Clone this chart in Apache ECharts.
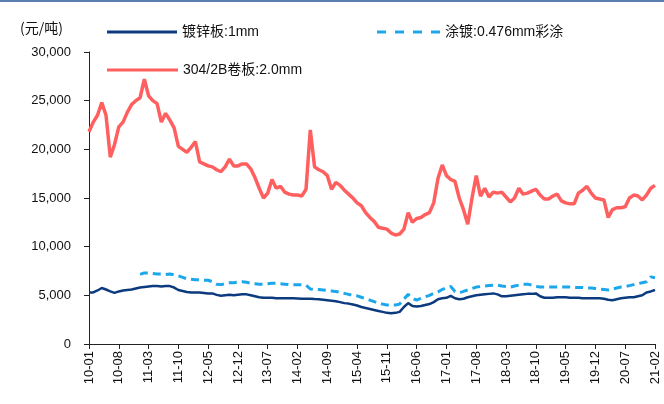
<!DOCTYPE html>
<html>
<head>
<meta charset="utf-8">
<script src="https://cdn.jsdelivr.net/npm/echarts@6/dist/echarts.min.js"></script>
<style>
html,body{margin:0;padding:0;background:#fff;}
#c{width:664px;height:404px;}
</style>
</head>
<body>
<div id="c"></div>
<script>
// Monthly categories 2010-01 .. 2021-02 (YY-MM)
var startYear = 10, startMonth = 1, monthCount = 134;
var categories = [];
for (var k = 0; k < monthCount; k++) {
  var m = startMonth - 1 + k;
  var yy = startYear + Math.floor(m / 12);
  var mm = (m % 12) + 1;
  categories.push(yy + '-' + (mm < 10 ? '0' + mm : '' + mm));
}

var seriesNames = ['镀锌板:1mm', '涂镀:0.476mm彩涂', '304/2B卷板:2.0mm'];

var galvanized = [
5300,5300,5500,5750,5600,5400,5250,5400,5500,5550,5600,5700,
5800,5850,5900,5950,5950,5900,5950,5950,5800,5550,5450,5350,
5300,5300,5300,5250,5200,5200,5050,4950,5000,5050,5000,5050,
5100,5100,5000,4900,4800,4750,4750,4750,4700,4700,4700,4700,
4700,4680,4650,4650,4650,4620,4600,4550,4500,4450,4400,4300,
4200,4150,4050,3950,3800,3700,3600,3500,3400,3300,3200,3150,
3200,3300,3800,4200,3900,3850,3900,4000,4100,4300,4600,4700,
4750,4950,4700,4600,4650,4800,4900,5000,5050,5100,5150,5200,
5100,4900,4900,4950,5000,5050,5100,5150,5150,5200,4900,4750,
4750,4750,4800,4800,4800,4750,4750,4750,4700,4700,4700,4700,
4700,4650,4550,4500,4600,4700,4750,4800,4800,4900,5000,5300,
5400,5550
];

var coated = [
null,null,null,null,null,null,null,null,null,null,null,null,
7150,7300,7300,7250,7200,7200,7150,7200,7100,7000,6850,6700,
6650,6600,6600,6550,6550,6400,6150,6100,6200,6300,6300,6350,
6400,6350,6250,6200,6150,6150,6200,6250,6250,6200,6150,6100,
6100,6100,6100,6050,5650,5600,5600,5550,5500,5450,5400,5300,
5200,5100,5000,4950,4800,4650,4500,4350,4200,4100,4000,4000,
4000,4100,4600,5100,4700,4500,4700,4850,5000,5200,5350,5600,
5800,5900,5400,5250,5400,5550,5700,5850,5900,5950,6000,6050,
6050,5950,5900,5850,5950,6050,6150,6150,6050,5900,5850,5850,
5850,5850,5850,5850,5850,5850,5800,5800,5800,5750,5750,5700,
5650,5600,5550,5650,5750,5850,5900,6000,6100,6200,6300,6400,
6900,6800
];

var stainless = [
21800,22800,23500,24800,23500,19200,20500,22300,22800,23800,24600,25000,
25300,27200,25500,25000,24700,22800,23700,23000,22200,20300,20000,19700,
20200,20800,18700,18500,18300,18200,17900,17700,18200,19000,18300,18300,
18500,18500,18000,17100,16000,15000,15500,16900,16000,16200,15600,15400,
15300,15300,15200,15900,22000,18200,17900,17700,17300,15900,16600,16300,
15800,15400,15000,14500,14200,13500,13000,12600,12000,11900,11800,11400,
11200,11300,11800,13500,12500,12900,13000,13300,13500,14500,17000,18400,
17300,16900,16700,15000,13800,12300,15000,17300,15200,16000,15100,15600,
15500,15600,15100,14600,15000,16000,15400,15500,15700,15900,15300,14900,
14900,15200,15400,14700,14500,14400,14400,15500,15800,16200,15500,15000,
14900,14800,13000,13800,14000,14000,14100,15000,15300,15200,14800,15300,
16000,16300
];

var yMin = 0, yMax = 30000, yInterval = 5000;

var chart = echarts.init(document.getElementById('c'), null, {renderer: 'canvas'});
var fontFam = '"Liberation Sans", Arial, "Noto Sans CJK SC", sans-serif';
var colors = ['#0b3a7e', '#1aa7ec', '#ff5f5f'];

var solidIcon = 'rect';
var dashIcon = 'path://M0,0h9v3h-9z M18,0h9v3h-9z M36,0h9v3h-9z M54,0h9v3h-9z';

function legendFor(idx, left, top, icon, w) {
  return {
    data: [{name: seriesNames[idx], icon: icon}],
    left: left, top: top,
    itemWidth: w, itemHeight: 3, itemGap: 10,
    padding: 0,
    textStyle: {fontSize: 14, color: '#111', fontFamily: fontFam},
    selectedMode: false
  };
}

chart.setOption({
  animation: false,
  backgroundColor: '#fff',
  color: colors,
  grid: {left: 89, right: 9, top: 52, bottom: 60, containLabel: false},
  legend: [
    legendFor(0, 107, 25, solidIcon, 70),
    legendFor(1, 377, 25, dashIcon, 63),
    legendFor(2, 107, 63, solidIcon, 71)
  ],
  graphic: [
    {type: 'rect', left: 0, top: 0, shape: {width: 664, height: 2}, style: {fill: '#5a7fae'}},
    {type: 'text', left: 20, top: 21, style: {text: '(元/吨)', font: '14px "Noto Sans CJK SC", sans-serif', fill: '#111'}}
  ],
  xAxis: {
    type: 'category',
    data: categories,
    boundaryGap: false,
    axisLine: {lineStyle: {color: '#222', width: 1}},
    axisTick: {show: true, interval: 6, length: 5, lineStyle: {color: '#222'}},
    axisLabel: {interval: 6, rotate: 90, fontSize: 13, color: '#111', fontFamily: fontFam, margin: 7},
    splitLine: {show: false}
  },
  yAxis: {
    type: 'value',
    min: yMin, max: yMax, interval: yInterval,
    axisLine: {show: true, lineStyle: {color: '#222', width: 1}},
    axisTick: {show: true, length: 5, lineStyle: {color: '#222'}},
    axisLabel: {
      fontSize: 13, color: '#111', fontFamily: fontFam, margin: 18,
      formatter: function (v) { return v.toLocaleString('en-US'); }
    },
    splitLine: {show: false}
  },
  series: [
    {name: seriesNames[0], type: 'line', data: galvanized, symbol: 'none', connectNulls: false,
     lineStyle: {color: colors[0], width: 2.5}, itemStyle: {color: colors[0]}, z: 3},
    {name: seriesNames[1], type: 'line', data: coated, symbol: 'none',
     lineStyle: {color: colors[1], width: 3, type: [8, 5]}, itemStyle: {color: colors[1]}, z: 2},
    {name: seriesNames[2], type: 'line', data: stainless, symbol: 'none',
     lineStyle: {color: colors[2], width: 3.5}, itemStyle: {color: colors[2]}, z: 1}
  ]
});
</script>
</body>
</html>
